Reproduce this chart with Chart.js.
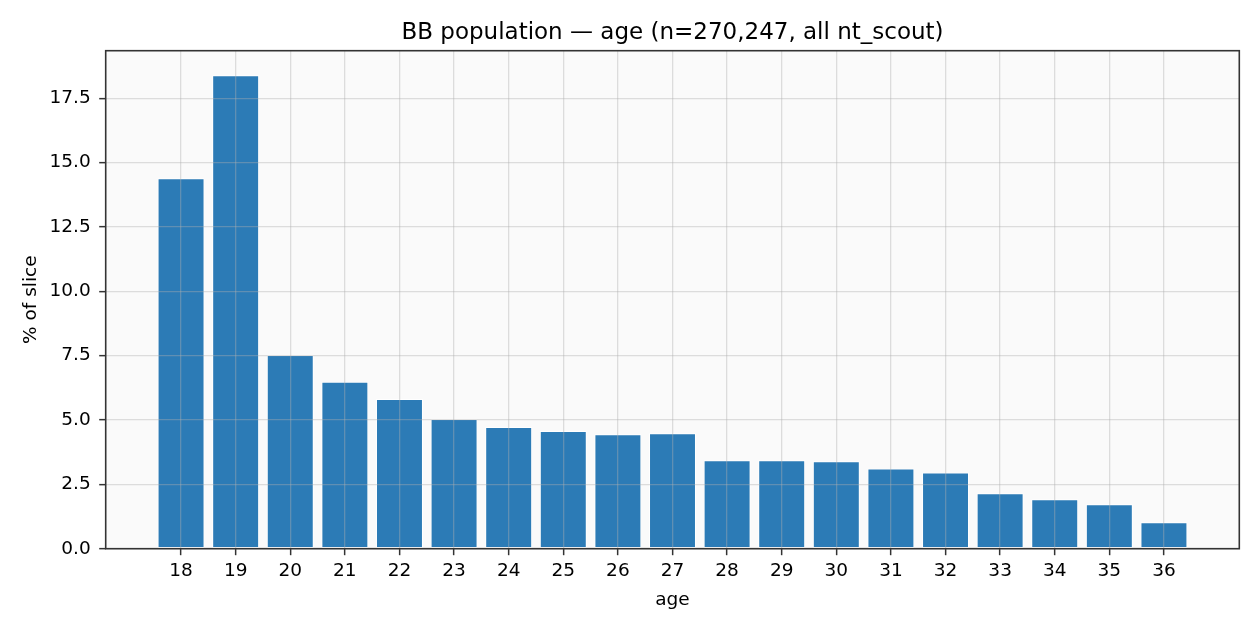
<!DOCTYPE html>
<html>
<head>
<meta charset="utf-8">
<title>BB population — age</title>
<script src="https://cdn.jsdelivr.net/npm/chart.js@4/dist/chart.umd.min.js"></script>
<style>
  html, body { margin: 0; padding: 0; background: #fff; }
  #wrap { width: 1260px; height: 630px; }
</style>
</head>
<body>
<div id="wrap"><canvas id="ageChart" width="1260" height="630"></canvas></div>
<script>
// values
const ages = [18, 19, 20, 21, 22, 23, 24, 25, 26, 27, 28, 29, 30, 31, 32, 33, 34, 35, 36];
const pctOfSlice = [14.39, 18.40, 7.53, 6.49, 5.82, 5.04, 4.73, 4.57, 4.45, 4.49,
                    3.44, 3.44, 3.40, 3.12, 2.96, 2.15, 1.92, 1.73, 1.03];
const yTicks = [0, 2.5, 5, 7.5, 10, 12.5, 15, 17.5];

const FONT = 'DejaVu Sans';

// plot background + full frame (matplotlib-like spines)
const frame = {
  id: 'frame',
  beforeDraw(chart) {
    const { ctx, chartArea: a } = chart;
    ctx.save();
    ctx.fillStyle = '#ffffff';
    ctx.fillRect(0, 0, chart.width, chart.height);
    ctx.fillStyle = '#fafafa';
    ctx.fillRect(a.left, a.top, a.right - a.left, a.bottom - a.top);
    ctx.restore();
  },
  afterDraw(chart) {
    const { ctx, chartArea: a } = chart;
    ctx.save();
    ctx.strokeStyle = '#333333';
    ctx.lineWidth = 1.6;
    ctx.strokeRect(a.left, a.top, a.right - a.left, a.bottom - a.top);
    ctx.restore();
  }
};

window.addEventListener('DOMContentLoaded', () => {
  const ctx = document.getElementById('ageChart').getContext('2d');
  new Chart(ctx, {
    type: 'bar',
    data: {
      datasets: [{
        label: '% of slice',
        data: ages.map((a, i) => ({ x: a, y: pctOfSlice[i] })),
        backgroundColor: '#2c7bb6',
        borderColor: '#ffffff',
        borderWidth: 1,
        borderSkipped: false,
        barPercentage: 0.86,
        categoryPercentage: 1.0
      }]
    },
    options: {
      responsive: false,
      animation: false,
      devicePixelRatio: 1,
      layout: { padding: { left: 0, right: 20.7, top: 0, bottom: 0 } },
      plugins: {
        legend: { display: false },
        tooltip: { enabled: false },
        title: {
          display: true,
          fullSize: false,
          text: 'BB population — age (n=270,247, all nt_scout)',
          color: '#000',
          font: { family: FONT, size: 23, weight: 'normal' },
          padding: { top: 19.3, bottom: 3.8 }
        }
      },
      scales: {
        x: {
          type: 'linear',
          offset: false,
          min: 16.62,
          max: 37.38,
          afterBuildTicks: s => { s.ticks = ages.map(v => ({ value: v })); },
          afterFit: s => { s.height = 81.3; },
          ticks: {
            color: '#000',
            font: { family: FONT, size: 18.5 },
            padding: 5,
            maxRotation: 0,
            autoSkip: false,
            callback: v => String(v)
          },
          grid: {
            z: 1,
            offset: false,
            color: 'rgba(176,176,176,0.4)',
            lineWidth: 1.3,
            tickColor: '#333333',
            tickLength: 6.5,
            tickWidth: 1.5
          },
          border: { display: false },
          title: {
            display: true,
            text: 'age',
            color: '#000',
            font: { family: FONT, size: 18.5 },
            padding: { top: 0, bottom: 18.5 }
          }
        },
        y: {
          min: 0,
          max: 19.35,
          afterBuildTicks: s => { s.ticks = yTicks.map(v => ({ value: v })); },
          afterFit: s => { s.width = 105.7; },
          ticks: {
            color: '#000',
            font: { family: FONT, size: 18.5 },
            padding: 8.5,
            callback: v => v.toFixed(1)
          },
          grid: {
            z: 1,
            color: 'rgba(176,176,176,0.4)',
            lineWidth: 1.3,
            tickColor: '#333333',
            tickLength: 6.5,
            tickWidth: 1.5
          },
          border: { display: false },
          title: {
            display: true,
            text: '% of slice',
            color: '#000',
            font: { family: FONT, size: 18.5 },
            padding: { top: 20, bottom: 0 }
          }
        }
      }
    },
    plugins: [frame]
  });
});
</script>
</body>
</html>
